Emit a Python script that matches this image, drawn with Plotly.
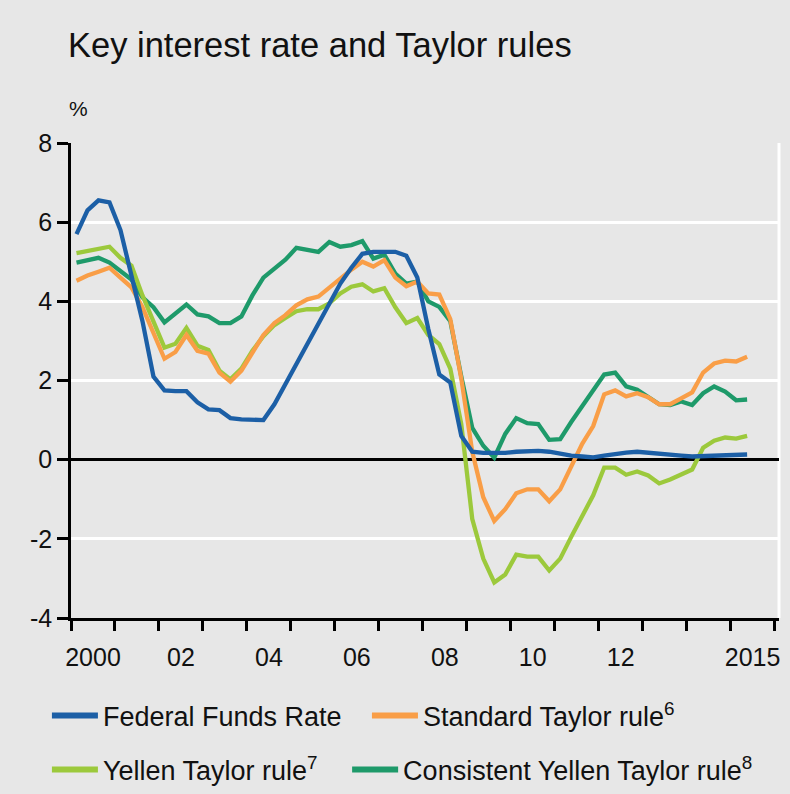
import plotly.graph_objects as go

# Quarterly observations, 2000Q1 .. 2015Q2
quarters = [f"{y}Q{q}" for y in range(2000, 2016) for q in range(1, 5)][:62]

fed_funds = [5.70, 6.30, 6.55, 6.50, 5.80, 4.70, 3.50, 2.10, 1.75, 1.73, 1.73, 1.45,
             1.27, 1.25, 1.05, 1.02, 1.00, 1.00, 1.40, 1.90, 2.40, 2.95, 3.45, 3.95,
             4.45, 4.85, 5.20, 5.25, 5.25, 5.25, 5.15, 4.60, 3.30, 2.15, 1.95, 0.60,
             0.20, 0.17, 0.17, 0.17, 0.20, 0.22, 0.22, 0.20, 0.15, 0.10, 0.08, 0.06,
             0.10, 0.15, 0.18, 0.20, 0.17, 0.14, 0.12, 0.10, 0.08, 0.09, 0.10, 0.12,
             0.11, 0.13]

standard_taylor = [4.52, 4.65, 4.75, 4.85, 4.60, 4.35, 3.85, 3.20, 2.55, 2.72, 3.15, 2.75,
                   2.68, 2.20, 1.97, 2.25, 2.70, 3.15, 3.45, 3.65, 3.90, 4.05, 4.12, 4.35,
                   4.55, 4.80, 5.00, 4.88, 5.04, 4.60, 4.38, 4.50, 4.20, 4.17, 3.55, 2.05,
                   0.20, -0.95, -1.55, -1.25, -0.85, -0.75, -0.75, -1.05, -0.75, -0.15, 0.40, 0.85,
                   1.65, 1.75, 1.60, 1.68, 1.58, 1.40, 1.40, 1.55, 1.70, 2.20, 2.43, 2.50,
                   2.48, 2.60]

yellen_taylor = [5.22, 5.27, 5.33, 5.38, 5.10, 4.90, 4.15, 3.50, 2.83, 2.93, 3.33, 2.88,
                 2.77, 2.25, 2.03, 2.30, 2.75, 3.12, 3.40, 3.58, 3.75, 3.80, 3.80, 3.95,
                 4.20, 4.37, 4.43, 4.25, 4.33, 3.85, 3.45, 3.58, 3.15, 2.92, 2.30, 0.90,
                 -1.50, -2.50, -3.10, -2.90, -2.40, -2.45, -2.45, -2.80, -2.50, -1.95, -1.45, -0.90,
                 -0.20, -0.20, -0.38, -0.30, -0.40, -0.60, -0.50, -0.38, -0.25, 0.30, 0.48, 0.56,
                 0.53, 0.60]

consistent_yellen = [4.98, 5.05, 5.10, 4.98, 4.77, 4.55, 4.10, 3.85, 3.47, 3.70, 3.92, 3.67,
                     3.62, 3.45, 3.45, 3.62, 4.15, 4.60, 4.82, 5.05, 5.35, 5.30, 5.25, 5.50,
                     5.38, 5.42, 5.52, 5.08, 5.18, 4.70, 4.45, 4.50, 4.00, 3.86, 3.50, 2.10,
                     0.80, 0.35, 0.05, 0.65, 1.05, 0.92, 0.90, 0.50, 0.52, 0.95, 1.35, 1.75,
                     2.15, 2.20, 1.85, 1.77, 1.60, 1.40, 1.38, 1.47, 1.38, 1.68, 1.85, 1.72,
                     1.50, 1.52]

tick_years = [2000, 2002, 2004, 2006, 2008, 2010, 2012, 2015]
tick_text = ["2000", "02", "04", "06", "08", "10", "12", "2015"]
y_ticks = [-4, -2, 0, 2, 4, 6, 8]
y_tick_text = ["-4", "-2", "0", "2", "4", "6", "8"]


def quarter_to_year(label):
    y, q = label.split("Q")
    return int(y) + (int(q) - 0.5) / 4


x = [quarter_to_year(q) for q in quarters]

FONT = "Liberation Sans, Arial, sans-serif"
TXT = "#111111"
BG = "#e7e7e7"

series = [
    ("Federal Funds Rate", fed_funds, "#1c5fa6", "legend"),
    ("Standard Taylor rule<sup>6</sup>", standard_taylor, "#f99e47", "legend2"),
    ("Yellen Taylor rule<sup>7</sup>", yellen_taylor, "#9cc93c", "legend3"),
    ("Consistent Yellen Taylor rule<sup>8</sup>", consistent_yellen, "#1e9a6a", "legend4"),
]

fig = go.Figure()
# draw order: green, yellow, orange, blue on top
for name, vals, color, leg in [series[3], series[2], series[1], series[0]]:
    fig.add_trace(go.Scatter(x=x, y=vals, mode="lines", name=name,
                             line=dict(color=color, width=4.3),
                             showlegend=False, hoverinfo="skip"))
for name, vals, color, leg in series:
    fig.add_trace(go.Scatter(x=[None], y=[None], mode="lines", name=name,
                             line=dict(color=color, width=6), legend=leg))


def leg(xpos, ypos):
    return dict(orientation="h", x=xpos, xanchor="left", y=ypos, yanchor="middle",
                font=dict(size=27, family=FONT, color=TXT),
                bgcolor="rgba(0,0,0,0)", itemwidth=46)


fig.update_layout(
    width=790, height=794,
    paper_bgcolor=BG, plot_bgcolor=BG,
    margin=dict(l=71, r=11, t=143, b=176, autoexpand=False),
    font=dict(family=FONT, color=TXT, size=24),
    title=dict(text="Key interest rate and Taylor rules", x=0.086, xanchor="left",
               y=0.943, yanchor="middle", font=dict(size=34.5, family=FONT, color=TXT)),
    legend=leg(-0.034, -0.206),
    legend2=leg(0.418, -0.206),
    legend3=leg(-0.034, -0.32),
    legend4=leg(0.39, -0.32),
    showlegend=True,
)

fig.update_xaxes(
    range=[2000, 2016.1], showgrid=False, zeroline=False,
    showline=True, linecolor="black", linewidth=2.5,
    tickmode="array", tickvals=[y + 0.5 for y in tick_years], ticktext=tick_text,
    ticks="", ticklabelstandoff=15,
    tickfont=dict(size=25, family=FONT, color=TXT),
    minor=dict(ticks="outside", dtick=1, tick0=2000, ticklen=10, tickwidth=2.5,
               tickcolor="black", showgrid=False),
)
fig.update_yaxes(
    range=[-4, 8], tickmode="array", tickvals=y_ticks, ticktext=y_tick_text,
    showgrid=True, gridcolor="white", gridwidth=3,
    zeroline=True, zerolinecolor="black", zerolinewidth=2.5,
    showline=True, linecolor="black", linewidth=2.5,
    ticks="outside", ticklen=11, tickwidth=2.5, tickcolor="black",
    tickfont=dict(size=25, family=FONT, color=TXT),
)

# white right border of the plot area
fig.add_shape(type="line", xref="paper", yref="paper", x0=1, x1=1, y0=0, y1=1,
              line=dict(color="white", width=3), layer="below")

fig.add_annotation(text="%", xref="paper", yref="paper", x=-0.006, y=1.073,
                   xanchor="left", yanchor="middle", showarrow=False,
                   font=dict(size=21, family=FONT, color=TXT))

fig.write_html(
    "out.html",
    config={"displayModeBar": False},
    post_script="document.body.style.margin='0';document.body.style.background='#e7e7e7';",
)
